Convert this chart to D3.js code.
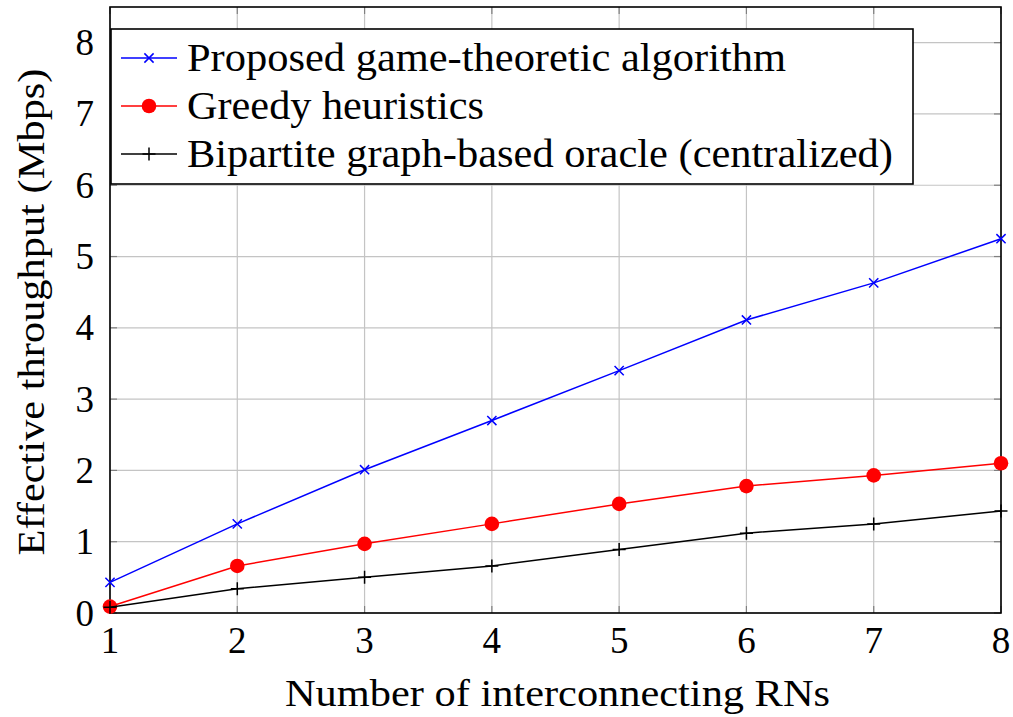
<!DOCTYPE html>
<html>
<head>
<meta charset="utf-8">
<script src="https://cdn.jsdelivr.net/npm/d3@7"></script>
<style>
  html, body { margin: 0; padding: 0; background: #fff; }
  svg { display: block; }
</style>
</head>
<body>
<svg id="chart" width="1013" height="717"></svg>
<script>
// Number of interconnecting RNs
const rnCounts = [1, 2, 3, 4, 5, 6, 7, 8];
// Effective throughput (Mbps) per scheme
const proposedValues = [0.43, 1.25, 2.01, 2.70, 3.40, 4.11, 4.63, 5.25];
const greedyValues   = [0.09, 0.66, 0.97, 1.25, 1.53, 1.78, 1.93, 2.10];
const oracleValues   = [0.08, 0.34, 0.50, 0.66, 0.89, 1.12, 1.25, 1.43];
const seriesNames = [
  "Proposed game-theoretic algorithm",
  "Greedy heuristics",
  "Bipartite graph-based oracle (centralized)"
];
const xTicks = [1, 2, 3, 4, 5, 6, 7, 8];
const yTicks = [0, 1, 2, 3, 4, 5, 6, 7, 8];

const FONT = "'Liberation Serif', Tinos, serif";

const svg = d3.select("#chart");
const plotLeft = 110, plotRight = 1001, plotTop = 7, plotBottom = 613;

const x = d3.scaleLinear().domain([1, 8]).range([plotLeft, plotRight]);
const y = d3.scaleLinear().domain([0, 8.5]).range([plotBottom, plotTop]);

// grid
const grid = svg.append("g");
grid.selectAll("line.gx").data(xTicks).join("line")
  .attr("x1", d => x(d)).attr("x2", d => x(d))
  .attr("y1", plotTop).attr("y2", plotBottom)
  .attr("stroke", "#c4c4c4").attr("stroke-width", 1.2);
grid.selectAll("line.gy").data(yTicks).join("line")
  .attr("x1", plotLeft).attr("x2", plotRight)
  .attr("y1", d => y(d)).attr("y2", d => y(d))
  .attr("stroke", "#c4c4c4").attr("stroke-width", 1.2);

// inward tick marks on all four sides
const tickLen = 7;
const ticks = svg.append("g").attr("stroke", "#808080").attr("stroke-width", 1.2);
xTicks.forEach(d => {
  ticks.append("line").attr("x1", x(d)).attr("x2", x(d)).attr("y1", plotBottom).attr("y2", plotBottom - tickLen);
  ticks.append("line").attr("x1", x(d)).attr("x2", x(d)).attr("y1", plotTop).attr("y2", plotTop + tickLen);
});
yTicks.forEach(d => {
  ticks.append("line").attr("x1", plotLeft).attr("x2", plotLeft + tickLen).attr("y1", y(d)).attr("y2", y(d));
  ticks.append("line").attr("x1", plotRight).attr("x2", plotRight - tickLen).attr("y1", y(d)).attr("y2", y(d));
});

// axis frame
svg.append("rect")
  .attr("x", plotLeft).attr("y", plotTop)
  .attr("width", plotRight - plotLeft).attr("height", plotBottom - plotTop)
  .attr("fill", "none").attr("stroke", "#000").attr("stroke-width", 1.6);

// tick labels
svg.append("g").selectAll("text").data(xTicks).join("text")
  .attr("x", d => x(d)).attr("y", 653)
  .attr("text-anchor", "middle")
  .style("font", "37px " + FONT)
  .text(d => d);
svg.append("g").selectAll("text").data(yTicks).join("text")
  .attr("x", 94).attr("y", d => y(d) + 12.5)
  .attr("text-anchor", "end")
  .style("font", "37px " + FONT)
  .text(d => d);

// axis titles
svg.append("text")
  .attr("x", (plotLeft + plotRight) / 2 + 2).attr("y", 706)
  .attr("text-anchor", "middle")
  .style("font", "38px " + FONT)
  .attr("textLength", 545).attr("lengthAdjust", "spacingAndGlyphs")
  .text("Number of interconnecting RNs");
svg.append("text")
  .attr("transform", "translate(44," + ((plotTop + plotBottom) / 2 + 2) + ") rotate(-90)")
  .attr("text-anchor", "middle")
  .style("font", "38px " + FONT)
  .attr("textLength", 487).attr("lengthAdjust", "spacingAndGlyphs")
  .text("Effective throughput (Mbps)");

// marker drawers
function drawCross(g, cx, cy, color) {
  const s = 4.6;
  g.append("path")
    .attr("d", `M${cx - s},${cy - s}L${cx + s},${cy + s}M${cx - s},${cy + s}L${cx + s},${cy - s}`)
    .attr("stroke", color).attr("stroke-width", 1.5).attr("fill", "none");
}
function drawDot(g, cx, cy, color) {
  g.append("circle").attr("cx", cx).attr("cy", cy).attr("r", 7.3).attr("fill", color);
}
function drawPlus(g, cx, cy, color) {
  const s = 6.5;
  g.append("path")
    .attr("d", `M${cx - s},${cy}L${cx + s},${cy}M${cx},${cy - s}L${cx},${cy + s}`)
    .attr("stroke", color).attr("stroke-width", 1.5).attr("fill", "none");
}

const series = [
  { name: seriesNames[0], values: proposedValues, color: "#0000ff", marker: drawCross },
  { name: seriesNames[1], values: greedyValues,   color: "#ff0000", marker: drawDot },
  { name: seriesNames[2], values: oracleValues,   color: "#000000", marker: drawPlus }
];

const line = d3.line().x(d => x(d[0])).y(d => y(d[1]));

// each series drawn in order, later ones on top
series.forEach(s => {
  const pts = rnCounts.map((c, i) => [c, s.values[i]]);
  const g = svg.append("g");
  g.append("path").datum(pts).attr("d", line)
    .attr("fill", "none").attr("stroke", s.color).attr("stroke-width", 1.5);
  pts.forEach(p => s.marker(g, x(p[0]), y(p[1]), s.color));
});

// legend
const legend = svg.append("g");
legend.append("rect")
  .attr("x", 111).attr("y", 29).attr("width", 802).attr("height", 155)
  .attr("fill", "#fff").attr("stroke", "#000").attr("stroke-width", 1.6);
const legendWidths = [599, 297, 706];
series.forEach((s, i) => {
  const cy = 58 + i * 48;
  legend.append("line").attr("x1", 121).attr("x2", 177).attr("y1", cy).attr("y2", cy)
    .attr("stroke", s.color).attr("stroke-width", 1.5);
  s.marker(legend, 149, cy, s.color);
  legend.append("text")
    .attr("x", 187).attr("y", cy + 12.5)
    .style("font", "39px " + FONT)
    .attr("textLength", legendWidths[i]).attr("lengthAdjust", "spacingAndGlyphs")
    .text(s.name);
});
</script>
</body>
</html>
